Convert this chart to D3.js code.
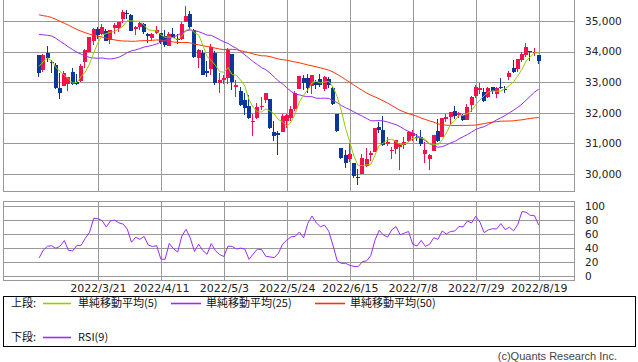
<!DOCTYPE html>
<html>
<head>
<meta charset="utf-8">
<script src="https://cdn.jsdelivr.net/npm/d3@7"></script>
<style>
body{margin:0;background:#fff;}
svg{display:block;}
</style>
</head>
<body>
<svg id="chart" width="638" height="362"></svg>
<script>
// daily candles 2022/3/1 - 2022/8/19
var dates = [
 "2022/3/1","2022/3/2","2022/3/3","2022/3/4","2022/3/7","2022/3/8","2022/3/9","2022/3/10","2022/3/11","2022/3/14",
 "2022/3/15","2022/3/16","2022/3/17","2022/3/18","2022/3/21","2022/3/22","2022/3/23","2022/3/24","2022/3/25","2022/3/28",
 "2022/3/29","2022/3/30","2022/3/31",
 "2022/4/1","2022/4/4","2022/4/5","2022/4/6","2022/4/7","2022/4/8","2022/4/11","2022/4/12","2022/4/13","2022/4/14",
 "2022/4/18","2022/4/19","2022/4/20","2022/4/21","2022/4/22","2022/4/25","2022/4/26","2022/4/27","2022/4/28","2022/4/29",
 "2022/5/2","2022/5/3","2022/5/4","2022/5/5","2022/5/6","2022/5/9","2022/5/10","2022/5/11","2022/5/12","2022/5/13",
 "2022/5/16","2022/5/17","2022/5/18","2022/5/19","2022/5/20","2022/5/23","2022/5/24","2022/5/25","2022/5/26","2022/5/27",
 "2022/5/31",
 "2022/6/1","2022/6/2","2022/6/3","2022/6/6","2022/6/7","2022/6/8","2022/6/9","2022/6/10","2022/6/13","2022/6/14",
 "2022/6/15","2022/6/16","2022/6/17","2022/6/21","2022/6/22","2022/6/23","2022/6/24","2022/6/27","2022/6/28","2022/6/29",
 "2022/6/30",
 "2022/7/1","2022/7/5","2022/7/6","2022/7/7","2022/7/8","2022/7/11","2022/7/12","2022/7/13","2022/7/14","2022/7/15",
 "2022/7/18","2022/7/19","2022/7/20","2022/7/21","2022/7/22","2022/7/25","2022/7/26","2022/7/27","2022/7/28","2022/7/29",
 "2022/8/1","2022/8/2","2022/8/3","2022/8/4","2022/8/5","2022/8/8","2022/8/9","2022/8/10","2022/8/11","2022/8/12",
 "2022/8/15","2022/8/16","2022/8/17","2022/8/18","2022/8/19"
];
var opens = [
 33873,33406,33964,33654,33560,32800,32888,32950,33320,33010,33050,33650,33980,34337,34738,34591,34686,34389,34779,34785,35053,35250,35200,
 34729,34800,34900,34590,34440,34600,34601,34520,34191,34569,34413,34425,34980,35213,34717,33800,33950,33359,33433,33970,
 32982,33060,33130,33919,32843,32703,32413,32210,31709,31837,32175,32432,32440,31378,31341,31362,31716,31815,32137,32783,33135,
 33152,32867,33013,33117,32778,33115,32815,31953,30849,30609,30494,30344,29910,30007,30264,30610,30727,31523,31440,30982,30753,
 30814,30891,30952,31062,31256,31214,31224,30657,30486,30752,31420,31200,31789,31860,32045,31935,31927,31780,32246,32544,
 32752,32683,32509,32829,32625,32849,32779,33160,33453,33439,33732,33875,34033,33966,33900
];
var highs = [
 33882,33927,34197,33726,33613,33298,33352,33180,33455,33283,33580,34099,34488,34765,34793,34888,34749,34712,34925,34964,35372,35350,35228,
 34850,34955,34924,34615,34610,34830,34601,34700,34628,34760,34576,34970,35492,35336,34745,34090,34047,33700,34240,34030,
 33301,33250,34117,33919,33066,32849,32660,32591,31950,32318,32508,32656,32440,31720,31406,31949,31959,32233,32725,33213,33224,
 33272,33249,33066,33272,33204,33164,32853,31953,30849,30784,31027,30344,30147,30660,30844,30765,31507,31706,31885,31224,30867,
 31097,31000,31224,31420,31440,31299,31439,31037,30660,31288,31789,31827,31950,32036,32228,32030,31956,32291,32547,32910,
 32984,32817,32831,32844,32850,33129,32875,33363,33739,33761,33984,34281,34034,34107,33900
];
var lows = [
 33160,33345,33653,33294,32788,32450,32888,32728,32918,32900,33000,33460,33980,34215,34401,34549,34354,34258,34589,34643,34947,35070,34670,
 34550,34707,34590,34290,34340,34580,34256,34150,34191,34449,34246,34369,34964,34714,33791,33450,33230,33162,33250,32913,
 32651,32950,32929,32734,32506,32215,31944,31783,31228,31804,32097,32314,31464,31072,30636,31362,31514,31723,32054,32782,32741,
 32653,32630,32779,32842,32698,32821,32270,31386,30506,30207,30394,29860,29653,30007,30217,30419,30727,31334,30925,30927,30500,
 30641,30143,30832,31045,31068,31078,30912,30346,30143,30752,31048,31200,31701,31617,31804,31834,31718,31770,32040,32470,
 32600,32339,32489,32607,32483,32768,32643,33087,33285,33337,33654,33830,33677,33860,33594
];
var closes = [
 33294.95,33891.35,33794.66,33614.80,32817.38,32632.64,33286.25,33174.07,32944.19,32945.24,33544.34,34063.10,34480.76,34754.93,
 34552.99,34807.46,34358.50,34707.94,34861.24,34955.89,35294.19,35228.81,34678.35,
 34818.27,34921.88,34641.18,34496.51,34583.57,34721.12,34308.08,34220.36,34564.59,34451.23,34411.69,34911.20,35160.79,34792.76,
 33811.40,34049.46,33240.18,33301.93,34160.78,32977.21,
 33061.50,33128.79,34061.06,32997.97,32899.37,32245.70,32160.74,31834.11,31730.30,32196.66,32223.42,32654.59,31490.07,31253.13,
 31261.90,31880.24,31928.62,32120.28,32637.19,33212.96,32990.12,
 32813.23,33248.28,32899.70,32915.78,33180.14,32910.90,32272.79,31392.79,30516.74,30364.83,30668.53,29927.07,29888.78,30530.25,
 30483.13,30677.36,31500.68,31438.26,30946.99,31029.31,30775.43,
 31097.26,30967.82,31037.68,31384.55,31338.15,31173.84,30981.33,30772.79,30630.17,31288.26,31072.61,31827.05,31874.84,32036.90,
 31899.29,31990.04,31761.54,32197.59,32529.63,32845.13,
 32798.40,32396.17,32812.50,32726.82,32803.47,32832.54,32774.41,33309.51,33336.67,33761.05,33912.44,34152.01,33980.32,33999.04,
 33706.74
];
// closes before the window (2021/12/17 - 2022/2/28), used for the averages and RSI
var priorCloses = [
 35365.44,34932.16,35492.70,35753.89,35950.56,36302.38,36398.21,36488.63,36398.08,36338.30,
 36585.06,36799.65,36407.11,36236.47,36231.66,36068.87,36252.02,36290.32,36113.62,35911.81,
 35368.47,35028.65,34715.39,34265.37,34364.50,34297.73,34168.09,34160.78,34725.47,35131.86,
 35405.24,35629.33,35111.16,35089.74,35091.13,35462.78,35768.06,35241.59,34738.06,34566.17,
 34988.84,34934.27,34312.03,34079.18,33596.61,33131.76,33223.83,34058.75,33892.60
];
var xTickLabels = ["2022/3/21","2022/4/11","2022/5/3","2022/5/24","2022/6/15","2022/7/8","2022/7/29","2022/8/19"];
var priceTicks = [30000,31000,32000,33000,34000,35000];
var rsiTicks = [0,20,40,60,80,100];

var upColor = "#f5124c", downColor = "#0b3898";
var gridColor = "#999";

// indicators
var allCloses = priorCloses.concat(closes);
var off = priorCloses.length;
function sma(n){
	return closes.map(function(c, i){
		var j = off + i;
		return d3.mean(allCloses.slice(j - n + 1, j + 1));
	});
}
var ma5 = sma(5), ma25 = sma(25), ma50 = sma(50);
var rsi9 = closes.map(function(c, i){
	var j = off + i, up = 0, dn = 0;
	for(var k = j - 8; k <= j; k++){
		var d = allCloses[k] - allCloses[k-1];
		if(d > 0) up += d; else dn -= d;
	}
	return up / (up + dn) * 100;
});

var svg = d3.select("#chart");

var x = d3.scaleLinear().domain([-8.6, 127.4]).range([3, 574]);
var y = d3.scaleLinear().domain([29444, 35654]).range([191, 1]);
var yr = d3.scaleLinear().domain([-5.3, 107.1]).range([280, 201]);

var tickIdx = xTickLabels.map(function(t){ return dates.indexOf(t); });

// upper panel grid
svg.append("g")
	.attr("class", "axis")
	.attr("transform", "translate(574,0)")
	.call(d3.axisRight(y).tickValues(priceTicks).tickSize(-571).tickPadding(11).tickFormat(d3.format(",")));

svg.append("g")
	.attr("class", "axis")
	.attr("transform", "translate(0,191)")
	.call(d3.axisBottom(x).tickValues(tickIdx).tickSize(-192).tickFormat(""));

// lower panel grid
svg.append("g")
	.attr("class", "axis")
	.attr("transform", "translate(574,0)")
	.call(d3.axisRight(yr).tickValues(rsiTicks).tickSize(-571).tickPadding(11));

svg.append("g")
	.attr("class", "axis xlab")
	.attr("transform", "translate(0,280)")
	.call(d3.axisBottom(x).tickValues(tickIdx).tickSize(-79).tickPadding(4)
		.tickFormat(function(d){ return dates[d]; }));

svg.selectAll(".axis .domain").remove();
svg.selectAll(".axis line")
	.attr("stroke", gridColor)
	.attr("shape-rendering", "crispEdges");
svg.selectAll(".axis text")
	.attr("fill", "#222")
	.attr("font-family", "DejaVu Sans")
	.attr("font-size", 10.5);
svg.selectAll(".xlab text").attr("font-size", 11);

// panel frames
var frame = svg.append("g").attr("stroke", gridColor).attr("fill", "none").attr("shape-rendering", "crispEdges");
frame.append("path").attr("d", "M3.5,0V191.5H574.5V0");
frame.append("rect").attr("x", 3.5).attr("y", 201.5).attr("width", 571).attr("height", 79);

// candles
var candles = svg.append("g").attr("shape-rendering", "crispEdges")
	.selectAll("g")
	.data(d3.range(closes.length))
	.enter()
	.append("g");

candles.append("line")
	.attr("x1", function(i){ return Math.round(x(i)) - 0.5; })
	.attr("x2", function(i){ return Math.round(x(i)) - 0.5; })
	.attr("y1", function(i){ return y(highs[i]); })
	.attr("y2", function(i){ return y(lows[i]); })
	.attr("stroke", function(i){ return closes[i] >= opens[i] ? upColor : downColor; });

candles.append("rect")
	.attr("x", function(i){ return Math.round(x(i)) - 2; })
	.attr("width", 4)
	.attr("y", function(i){ return y(Math.max(opens[i], closes[i])); })
	.attr("height", function(i){ return Math.max(1, Math.abs(y(opens[i]) - y(closes[i]))); })
	.attr("fill", function(i){ return closes[i] >= opens[i] ? upColor : downColor; });

// moving averages
var line = d3.line().x(function(d, i){ return x(i); }).y(function(d){ return y(d); });
var maSeries = [[ma50, "#ff3300"], [ma25, "#9a2cf5"], [ma5, "#99cc00"]];
maSeries.forEach(function(s){
	svg.append("path")
		.attr("d", line(s[0]))
		.attr("fill", "none")
		.attr("stroke", s[1])
		.attr("stroke-width", 1);
});

// RSI
var rline = d3.line().x(function(d, i){ return x(i); }).y(function(d){ return yr(d); });
svg.append("path")
	.attr("d", rline(rsi9))
	.attr("fill", "none")
	.attr("stroke", "#9a2cf5")
	.attr("stroke-width", 1);

// legend
var lg = svg.append("g").attr("font-family", "'Noto Sans CJK JP', sans-serif").attr("font-size", 11).attr("fill", "#111");
lg.append("rect").attr("x", 3.5).attr("y", 296.5).attr("width", 632).attr("height", 50)
	.attr("fill", "none").attr("stroke", "#000").attr("shape-rendering", "crispEdges");

var legendItems = [
	{row: 303, x1: 43, x2: 71, tx: 78, color: "#99cc00", label: "単純移動平均(5)"},
	{row: 303, x1: 171, x2: 201, tx: 206, color: "#9a2cf5", label: "単純移動平均(25)"},
	{row: 303, x1: 315, x2: 345, tx: 350, color: "#ff3300", label: "単純移動平均(50)"},
	{row: 337, x1: 43, x2: 71, tx: 78, color: "#9a2cf5", label: "RSI(9)"}
];
lg.append("text").attr("x", 11).attr("y", 307).text("上段:");
lg.append("text").attr("x", 11).attr("y", 341).text("下段:");
legendItems.forEach(function(d){
	lg.append("line").attr("x1", d.x1).attr("x2", d.x2).attr("y1", d.row + 0.5).attr("y2", d.row + 0.5)
		.attr("stroke", d.color).attr("stroke-width", 1.6);
	lg.append("text").attr("x", d.tx).attr("y", d.row + 4).text(d.label);
});

svg.append("text")
	.attr("x", 617).attr("y", 360)
	.attr("text-anchor", "end")
	.attr("font-family", "'Liberation Sans', Arial, sans-serif")
	.attr("font-size", 11)
	.attr("fill", "#444")
	.text("(c)Quants Research Inc.");
</script>
</body>
</html>
